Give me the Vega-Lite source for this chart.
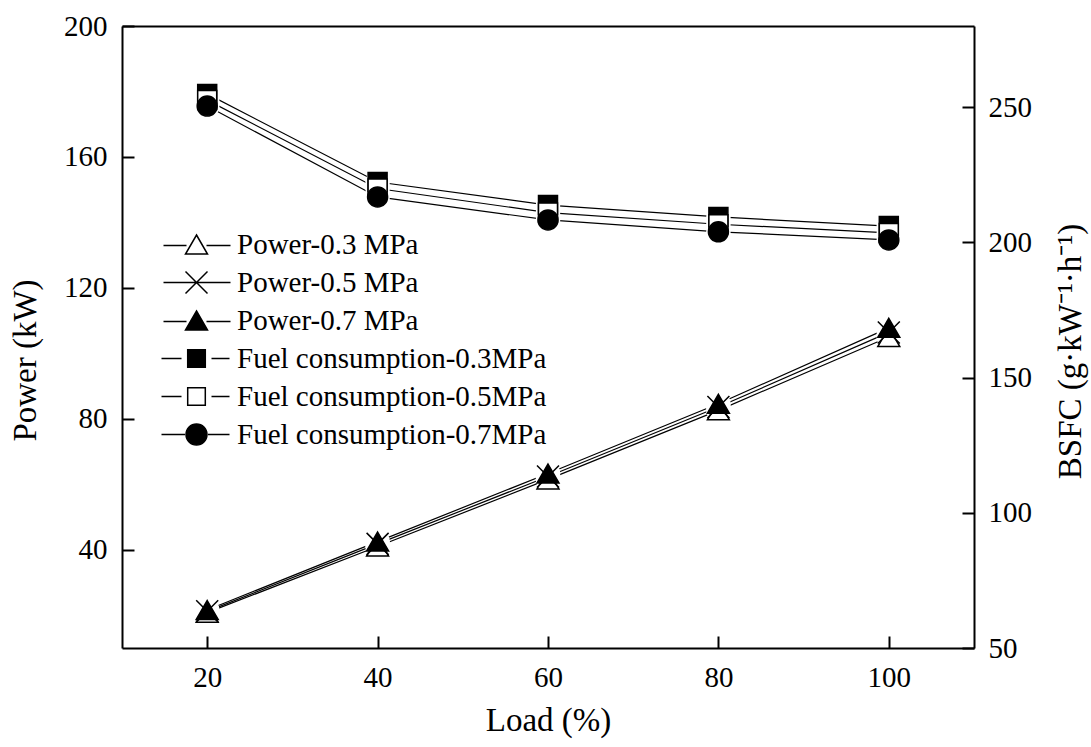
{
  "$schema": "https://vega.github.io/schema/vega-lite/v6.json",
  "width": 852,
  "height": 622,
  "autosize": {"type": "none"},
  "padding": {"left": 122, "top": 26, "right": 117, "bottom": 99},
  "background": "white",
  "config": {
    "view": {"stroke": null},
    "font": "Liberation Serif",
    "axis": {
      "grid": false,
      "domainColor": "black",
      "domainWidth": 2,
      "tickColor": "black",
      "tickWidth": 2,
      "tickSize": -12,
      "labelPadding": 27,
      "labelFont": "Liberation Serif",
      "labelFontSize": 29,
      "labelColor": "black",
      "titleFont": "Liberation Serif",
      "titleFontSize": 33,
      "titleFontWeight": "normal",
      "titleColor": "black"
    },
    "legend": {
      "orient": "none", "legendX": 60, "legendY": 204, "title": null,
      "labelFont": "Liberation Serif", "labelFontSize": 29, "labelColor": "black", "labelLimit": 500,
      "symbolSize": 400, "symbolStrokeWidth": 1.5, "symbolStrokeColor": "black", "symbolOpacity": 1,
      "labelOffset": 26, "rowPadding": 8
    }
  },
  "data": {
    "values": [
      {"load": 20, "group": "Power", "series": "Power-0.3 MPa", "value": 20.8},
      {"load": 40, "group": "Power", "series": "Power-0.3 MPa", "value": 41.0},
      {"load": 60, "group": "Power", "series": "Power-0.3 MPa", "value": 61.5},
      {"load": 80, "group": "Power", "series": "Power-0.3 MPa", "value": 82.6},
      {"load": 100, "group": "Power", "series": "Power-0.3 MPa", "value": 105.0},
      {"load": 20, "group": "Power", "series": "Power-0.5 MPa", "value": 21.2},
      {"load": 40, "group": "Power", "series": "Power-0.5 MPa", "value": 41.8},
      {"load": 60, "group": "Power", "series": "Power-0.5 MPa", "value": 62.4},
      {"load": 80, "group": "Power", "series": "Power-0.5 MPa", "value": 83.6},
      {"load": 100, "group": "Power", "series": "Power-0.5 MPa", "value": 106.4},
      {"load": 20, "group": "Power", "series": "Power-0.7 MPa", "value": 21.6},
      {"load": 40, "group": "Power", "series": "Power-0.7 MPa", "value": 42.5},
      {"load": 60, "group": "Power", "series": "Power-0.7 MPa", "value": 63.3},
      {"load": 80, "group": "Power", "series": "Power-0.7 MPa", "value": 84.6},
      {"load": 100, "group": "Power", "series": "Power-0.7 MPa", "value": 107.8},
      {"load": 20, "group": "Fuel", "series": "Fuel consumption-0.3MPa", "value": 254.9},
      {"load": 40, "group": "Fuel", "series": "Fuel consumption-0.3MPa", "value": 222.3},
      {"load": 60, "group": "Fuel", "series": "Fuel consumption-0.3MPa", "value": 213.8},
      {"load": 80, "group": "Fuel", "series": "Fuel consumption-0.3MPa", "value": 209.4},
      {"load": 100, "group": "Fuel", "series": "Fuel consumption-0.3MPa", "value": 206.0},
      {"load": 20, "group": "Fuel", "series": "Fuel consumption-0.5MPa", "value": 252.6},
      {"load": 40, "group": "Fuel", "series": "Fuel consumption-0.5MPa", "value": 219.9},
      {"load": 60, "group": "Fuel", "series": "Fuel consumption-0.5MPa", "value": 211.0},
      {"load": 80, "group": "Fuel", "series": "Fuel consumption-0.5MPa", "value": 206.7},
      {"load": 100, "group": "Fuel", "series": "Fuel consumption-0.5MPa", "value": 203.5},
      {"load": 20, "group": "Fuel", "series": "Fuel consumption-0.7MPa", "value": 250.4},
      {"load": 40, "group": "Fuel", "series": "Fuel consumption-0.7MPa", "value": 216.8},
      {"load": 60, "group": "Fuel", "series": "Fuel consumption-0.7MPa", "value": 208.3},
      {"load": 80, "group": "Fuel", "series": "Fuel consumption-0.7MPa", "value": 203.9},
      {"load": 100, "group": "Fuel", "series": "Fuel consumption-0.7MPa", "value": 200.9}
    ]
  },
  "layer": [
    {
      "transform": [{"filter": "datum.group === 'Power'"}],
      "encoding": {
        "x": {
          "field": "load", "type": "quantitative",
          "scale": {"domain": [10, 110], "nice": false, "zero": false},
          "axis": {"orient": "bottom", "values": [20, 40, 60, 80, 100], "title": "Load (%)", "titleX": 426, "titleY": 82, "titleBaseline": "alphabetic", "titleAlign": "center"}
        },
        "y": {
          "field": "value", "type": "quantitative",
          "scale": {"domain": [10, 200], "nice": false, "zero": false},
          "axis": {"orient": "left", "values": [40, 80, 120, 160, 200], "title": "Power (kW)", "titleAngle": -90, "titleX": -87, "titleY": 334, "titleBaseline": "alphabetic", "titleAlign": "center"}
        }
      },
      "layer": [
        {"mark": {"type": "line", "color": "black", "strokeWidth": 1.2}, "encoding": {"detail": {"field": "series"}}},
        {"mark": {"type": "point", "filled": true, "color": "white", "size": 600, "opacity": 1, "strokeWidth": 0}},
        {
          "mark": {"type": "point", "filled": true, "stroke": "black", "strokeWidth": 1.5, "size": 400, "opacity": 1},
          "encoding": {
            "shape": {
              "field": "series", "type": "nominal", "legend": null,
              "scale": {
                "domain": ["Power-0.3 MPa", "Power-0.5 MPa", "Power-0.7 MPa"],
                "range": ["M0,-0.95L1.1,0.95L-1.1,0.95Z", "M-1.1,-1.1L1.1,1.1M1.1,-1.1L-1.1,1.1", "M0,-0.95L1.1,0.95L-1.1,0.95Z"]
              }
            },
            "fill": {
              "field": "series", "type": "nominal", "legend": null,
              "scale": {
                "domain": ["Power-0.3 MPa", "Power-0.5 MPa", "Power-0.7 MPa"],
                "range": ["white", "black", "black"]
              }
            }
          }
        }
      ]
    },
    {
      "transform": [{"filter": "datum.group === 'Fuel'"}],
      "encoding": {
        "x": {
          "field": "load", "type": "quantitative",
          "scale": {"domain": [10, 110], "nice": false, "zero": false},
          "axis": {"orient": "top", "values": [20, 40, 60, 80, 100], "labels": false, "ticks": false, "title": null}
        },
        "y": {
          "field": "value", "type": "quantitative",
          "scale": {"domain": [50, 280], "nice": false, "zero": false},
          "axis": {"orient": "right", "values": [50, 100, 150, 200, 250], "labelPadding": 26, "title": "BSFC (g·kW⁻¹·h⁻¹)", "titleAngle": -90, "titleX": 106, "titleY": 325, "titleBaseline": "alphabetic", "titleAlign": "center"}
        }
      },
      "layer": [
        {"mark": {"type": "line", "color": "black", "strokeWidth": 1.2}, "encoding": {"detail": {"field": "series"}}},
        {"mark": {"type": "point", "filled": true, "color": "white", "size": 600, "opacity": 1, "strokeWidth": 0}},
        {
          "mark": {"type": "point", "filled": true, "stroke": "black", "strokeWidth": 1.5, "size": 400, "opacity": 1},
          "encoding": {
            "shape": {
              "field": "series", "type": "nominal", "legend": null,
              "scale": {
                "domain": ["Fuel consumption-0.3MPa", "Fuel consumption-0.5MPa", "Fuel consumption-0.7MPa"],
                "range": ["M-0.95,-0.95H0.95V0.95H-0.95Z", "M-0.95,-0.95H0.95V0.95H-0.95Z", "circle"]
              }
            },
            "fill": {
              "field": "series", "type": "nominal", "legend": null,
              "scale": {
                "domain": ["Fuel consumption-0.3MPa", "Fuel consumption-0.5MPa", "Fuel consumption-0.7MPa"],
                "range": ["black", "white", "black"]
              }
            }
          }
        }
      ]
    },
    {
      "transform": [{"filter": "false"}],
      "mark": {"type": "point", "filled": true, "stroke": "black", "strokeWidth": 1.5, "opacity": 1},
      "encoding": {
        "fill": {
          "field": "series", "type": "nominal",
          "scale": {
            "domain": ["Power-0.3 MPa", "Power-0.5 MPa", "Power-0.7 MPa", "Fuel consumption-0.3MPa", "Fuel consumption-0.5MPa", "Fuel consumption-0.7MPa"],
            "range": ["white", "black", "black", "black", "white", "black"]
          },
          "legend": {
            "encode": {
              "symbols": {
                "update": {
                  "stroke": {"value": "black"},
                  "strokeWidth": {"value": 1.5},
                  "shape": {"signal": "datum.value === 'Power-0.5 MPa' ? 'M-3.3,0H3.4M-1.1,-1.1L1.1,1.1M1.1,-1.1L-1.1,1.1' : (datum.value === 'Power-0.3 MPa' || datum.value === 'Power-0.7 MPa') ? 'M-3.3,0.1H-1.0M1.0,0.1H3.4M0,-0.95L1.1,0.95L-1.1,0.95Z' : datum.value === 'Fuel consumption-0.7MPa' ? 'M-3.5,0H-1.15M1.15,0H3.3M1.05,0C1.05,0.58,0.58,1.05,0,1.05C-0.58,1.05,-1.05,0.58,-1.05,0C-1.05,-0.58,-0.58,-1.05,0,-1.05C0.58,-1.05,1.05,-0.58,1.05,0Z' : 'M-3.5,0H-1.5M1.5,0H3.3M-0.88,-0.88H0.88V0.88H-0.88Z'"}
                }
              }
            }
          }
        }
      }
    }
  ],
  "resolve": {"scale": {"y": "independent", "shape": "independent", "fill": "independent"}, "axis": {"x": "independent"}}
}
